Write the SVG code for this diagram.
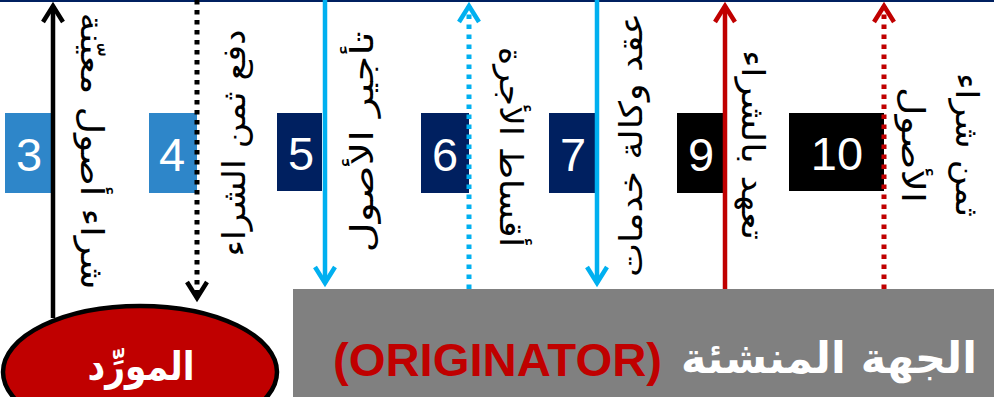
<svg xmlns="http://www.w3.org/2000/svg" width="994" height="397" viewBox="0 0 994 397">
<style>
.num{font-family:"Liberation Sans",Arial,sans-serif;font-size:47px;fill:#fff;text-anchor:middle}
.vt{font-family:"DejaVu Sans",sans-serif;font-size:32px;fill:#000;text-anchor:middle;dominant-baseline:central}
.blk{stroke:#000}
.blu{stroke:#00B0F0}
.red{stroke:#C00000}
.solid{stroke-width:4.5;fill:none}
.dot{stroke-width:5;stroke-dasharray:4.5 5.5;fill:none}
</style>
<defs>
<marker id="hk" markerUnits="userSpaceOnUse" viewBox="-24 -16 30 32" markerWidth="30" markerHeight="32" refX="0" refY="0" orient="auto">
<path d="M-16,-10 L0,0 L-16,10" fill="none" stroke="#000" stroke-width="4.5" stroke-linejoin="miter"/>
</marker>
<marker id="hb" markerUnits="userSpaceOnUse" viewBox="-24 -16 30 32" markerWidth="30" markerHeight="32" refX="0" refY="0" orient="auto">
<path d="M-16,-10 L0,0 L-16,10" fill="none" stroke="#00B0F0" stroke-width="4.5" stroke-linejoin="miter"/>
</marker>
<marker id="hr" markerUnits="userSpaceOnUse" viewBox="-24 -16 30 32" markerWidth="30" markerHeight="32" refX="0" refY="0" orient="auto">
<path d="M-16,-10 L0,0 L-16,10" fill="none" stroke="#C00000" stroke-width="4.5" stroke-linejoin="miter"/>
</marker>
</defs>
<rect x="0" y="0" width="994" height="397" fill="#fff"/>
<line x1="0" y1="1" x2="994" y2="1" stroke="#002060" stroke-width="2"/>

<g id="supplier">
<ellipse cx="140" cy="372" rx="137" ry="66" fill="#C00000" stroke="#000" stroke-width="4.5"/>
<text x="141" y="380" font-family="'DejaVu Sans',sans-serif" font-weight="bold" font-size="40" fill="#fff" text-anchor="middle" textLength="107" lengthAdjust="spacingAndGlyphs">المورِّد</text>
</g>

<g id="originator">
<rect x="293" y="289" width="701" height="108" fill="#808080"/>
<text x="333" y="376" font-family="'Liberation Sans',Arial,sans-serif" font-weight="bold" font-size="46" fill="#C00000" textLength="329" lengthAdjust="spacingAndGlyphs">(ORIGINATOR)</text>
<text x="829" y="373" font-family="'DejaVu Sans',sans-serif" font-weight="bold" font-size="43" fill="#fff" text-anchor="middle">الجهة المنشئة</text>
</g>

<g id="step3"><rect x="5" y="113" width="48" height="80" fill="#2E86C9"/><text class="num" x="29" y="171">3</text></g>
<g id="step4"><rect x="149" y="113" width="48" height="80" fill="#2E86C9"/><text class="num" x="172" y="171">4</text></g>
<g id="step5"><rect x="277" y="113" width="45" height="78" fill="#002060"/><text class="num" x="301" y="170">5</text></g>
<g id="step6"><rect x="421" y="113" width="48" height="80" fill="#002060"/><text class="num" x="445" y="171">6</text></g>
<g id="step7"><rect x="549" y="113" width="48" height="80" fill="#002060"/><text class="num" x="573" y="171">7</text></g>
<g id="step9"><rect x="677" y="113" width="46" height="80" fill="#000"/><text class="num" x="701" y="171">9</text></g>
<g id="step10"><rect x="789" y="113" width="95" height="78" fill="#000"/><text class="num" x="837" y="170">10</text></g>

<g id="connectors">
<line class="blk solid" x1="53" y1="318" x2="53" y2="6" marker-end="url(#hk)"/>
<line class="blk dot" x1="197" y1="0" x2="197" y2="298" marker-end="url(#hk)"/>
<line class="blu solid" x1="325" y1="0" x2="325" y2="283" marker-end="url(#hb)" stroke-width="4"/>
<line class="blu dot" x1="469" y1="289" x2="469" y2="6" marker-end="url(#hb)"/>
<line class="blu solid" x1="597" y1="0" x2="597" y2="283" marker-end="url(#hb)" stroke-width="4"/>
<line class="red solid" x1="725" y1="289" x2="725" y2="6" marker-end="url(#hr)"/>
<line class="red dot" x1="884" y1="289" x2="884" y2="6" marker-end="url(#hr)"/>
</g>

<g id="labels">
<text class="vt" transform="translate(92,151) rotate(90)" textLength="277" lengthAdjust="spacingAndGlyphs">شراء أصول معيّنة</text>
<text class="vt" transform="translate(234,143) rotate(-90)" textLength="227" lengthAdjust="spacingAndGlyphs">دفع ثمن الشراء</text>
<text class="vt" transform="translate(362,142) rotate(-90)" textLength="221" lengthAdjust="spacingAndGlyphs">تأجير الأصول</text>
<text class="vt" transform="translate(511,147) rotate(90)" textLength="200" lengthAdjust="spacingAndGlyphs">أقساط الأجرة</text>
<text class="vt" transform="translate(631,145) rotate(-90)" textLength="264" lengthAdjust="spacingAndGlyphs">عقد وكالة خدمات</text>
<text class="vt" transform="translate(753,145) rotate(90)" textLength="190" lengthAdjust="spacingAndGlyphs">تعهد بالشراء</text>
<text class="vt" transform="translate(967,145) rotate(90)" textLength="144" lengthAdjust="spacingAndGlyphs">ثمن شراء</text>
<text class="vt" transform="translate(913,145) rotate(90)" textLength="116" lengthAdjust="spacingAndGlyphs">الأصول</text>
</g>
</svg>
